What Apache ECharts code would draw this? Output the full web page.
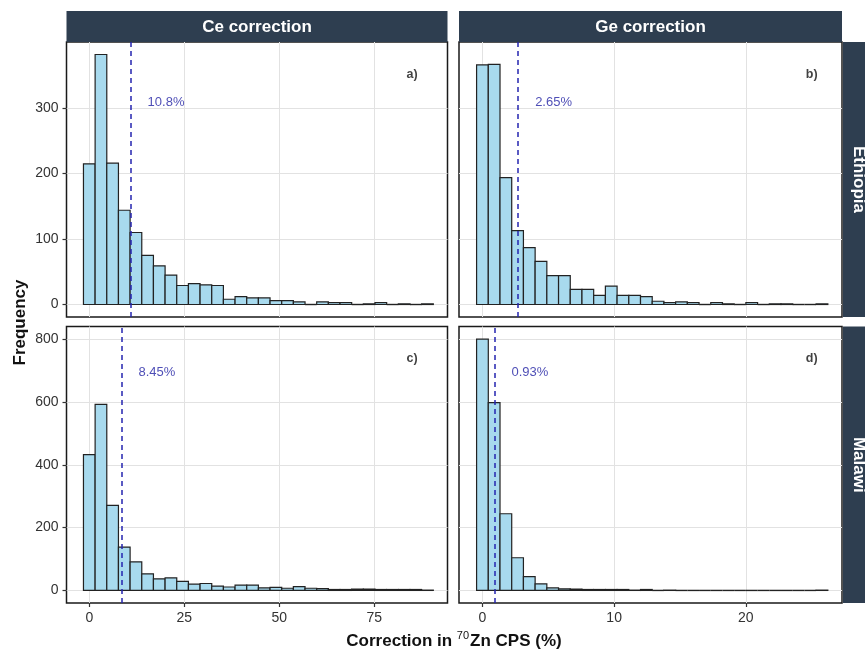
<!DOCTYPE html>
<html>
<head>
<meta charset="utf-8">
<script src="https://cdn.jsdelivr.net/npm/echarts@6/dist/echarts.min.js"></script>
<style>
html,body{margin:0;padding:0;background:#fff}
#chart{width:865px;height:652px}
</style>
</head>
<body>
<div id="chart"></div>
<script>
// histogram counts, 30 bins per panel
var ceEthiopia = [215,382,216,144,110,75,59,45,29,32,30,29,8,12,10,10,6,6,4,0,4,3,3,0,1,3,0,1,0,1];
var geEthiopia = [366,367,194,113,87,66,44,44,23,23,14,28,14,14,12,5,3,4,3,0,3,1,0,3,0,1,1,0,0,1];
var ceMalawi   = [432,592,271,138,91,53,37,40,29,20,22,14,11,17,17,8,10,7,12,7,6,3,3,4,4,3,3,3,3,1];
var geMalawi   = [800,598,244,104,44,21,8,5,4,3,3,3,3,1,3,0,1,0,0,0,0,0,0,0,0,0,0,0,0,1];

// bins: first bin centre and bin width for each column
var ceBin = {first: 0, width: 3.07};
var geBin = {first: 0, width: 0.889};

// mean correction (dashed line) per panel
var meanValues = [10.8, 2.65, 8.45, 0.93];
var meanLabels = ['10.8%', '2.65%', '8.45%', '0.93%'];
var meanLabelPos = [[20.2, 309], [5.4, 309], [17.8, 695], [3.6, 695]];
var panelTags = ['a)', 'b)', 'c)', 'd)'];
var panelTagPos = [[85, 352], [25, 352], [85, 738], [25, 738]];

var xTicksCe = [0, 25, 50, 75];
var xTicksGe = [0, 10, 20];
var yTicksTop = [0, 100, 200, 300];
var yTicksBottom = [0, 200, 400, 600, 800];

var columns = ['Ce correction', 'Ge correction'];
var rows = ['Ethiopia', 'Malawi'];

function toBins(counts, bin) {
    var out = [];
    for (var i = 0; i < counts.length; i++) {
        var c = bin.first + i * bin.width;
        out.push([c - bin.width / 2, c + bin.width / 2, counts[i]]);
    }
    return out;
}

function renderBin(params, api) {
    var p0 = api.coord([api.value(0), api.value(2)]);
    var p1 = api.coord([api.value(1), 0]);
    if (api.value(2) === 0) {
        // empty bin: ggplot still draws its outline as a flat line
        return {
            type: 'line',
            shape: {x1: p0[0], y1: p1[1], x2: p1[0], y2: p1[1]},
            style: {stroke: '#222', lineWidth: 1.4}
        };
    }
    return {
        type: 'rect',
        shape: {x: p0[0], y: p0[1], width: p1[0] - p0[0], height: p1[1] - p0[1]},
        style: {fill: '#a8daee', stroke: '#222', lineWidth: 1.2}
    };
}

var panels = [
    {data: toBins(ceEthiopia, ceBin), left: 66.5, top: 42, width: 381, height: 275, xmin: -6, xmax: 94.3, xt: xTicksCe, ymin: -19.1, ymax: 401.1, yt: yTicksTop, bottom: false, leftSide: true},
    {data: toBins(geEthiopia, geBin), left: 459, top: 42, width: 383, height: 275, xmin: -1.78, xmax: 27.3, xt: xTicksGe, ymin: -19.1, ymax: 401.1, yt: yTicksTop, bottom: false, leftSide: false},
    {data: toBins(ceMalawi, ceBin), left: 66.5, top: 326.5, width: 381, height: 276.5, xmin: -6, xmax: 94.3, xt: xTicksCe, ymin: -40, ymax: 840, yt: yTicksBottom, bottom: true, leftSide: true},
    {data: toBins(geMalawi, geBin), left: 459, top: 326.5, width: 383, height: 276.5, xmin: -1.78, xmax: 27.3, xt: xTicksGe, ymin: -40, ymax: 840, yt: yTicksBottom, bottom: true, leftSide: false}
];

var grid = [], xAxis = [], yAxis = [], series = [];
panels.forEach(function (p, i) {
    grid.push({left: p.left, top: p.top, width: p.width, height: p.height, show: true,
        borderColor: '#1a1a1a', borderWidth: 1.5, backgroundColor: 'transparent'});
    xAxis.push({
        type: 'value', gridIndex: i, min: p.xmin, max: p.xmax, position: 'bottom',
        axisLine: {show: false, onZero: false},
        axisTick: {show: p.bottom, customValues: p.xt, length: 4, lineStyle: {color: '#333', width: 1.2}},
        axisLabel: {show: p.bottom, customValues: p.xt, color: '#333', fontSize: 14, margin: 8, fontFamily: 'Liberation Sans'},
        splitLine: {show: true, lineStyle: {color: '#e2e2e2', width: 1}}
    });
    yAxis.push({
        type: 'value', gridIndex: i, min: p.ymin, max: p.ymax, position: 'left',
        axisLine: {show: false, onZero: false},
        axisTick: {show: p.leftSide, customValues: p.yt, length: 4, lineStyle: {color: '#333', width: 1.2}},
        axisLabel: {show: p.leftSide, customValues: p.yt, color: '#333', fontSize: 14, margin: 8, fontFamily: 'Liberation Sans'},
        splitLine: {show: true, lineStyle: {color: '#e2e2e2', width: 1}}
    });
    series.push({
        type: 'custom', xAxisIndex: i, yAxisIndex: i, renderItem: renderBin,
        encode: {x: [0, 1], y: 2}, data: p.data, silent: true,
        markLine: {
            symbol: 'none', silent: true, label: {show: false},
            lineStyle: {type: [5, 4], color: '#2424b0', width: 1.5},
            data: [{xAxis: meanValues[i]}]
        }
    });
    series.push({
        type: 'scatter', xAxisIndex: i, yAxisIndex: i, symbolSize: 0, silent: true,
        data: [{value: meanLabelPos[i], name: meanLabels[i]}],
        label: {show: true, position: 'inside', formatter: '{b}', color: '#2222a4', fontSize: 13, fontFamily: 'Liberation Sans'}
    });
    series.push({
        type: 'scatter', xAxisIndex: i, yAxisIndex: i, symbolSize: 0, silent: true,
        data: [{value: panelTagPos[i], name: panelTags[i]}],
        label: {show: true, position: 'inside', formatter: '{b}', color: '#111', fontSize: 12.5, fontWeight: 'bold', fontFamily: 'Liberation Sans'}
    });
});

var stripColor = '#2e3e50';
var stripFont = 'bold 17px "Liberation Sans"';
var graphic = [
    {type: 'rect', shape: {x: 66.5, y: 11, width: 381, height: 31}, style: {fill: stripColor}},
    {type: 'rect', shape: {x: 459, y: 11, width: 383, height: 31}, style: {fill: stripColor}},
    {type: 'text', x: 257, y: 27, style: {text: columns[0], fill: '#fff', font: stripFont, align: 'center', verticalAlign: 'middle'}},
    {type: 'text', x: 650.5, y: 27, style: {text: columns[1], fill: '#fff', font: stripFont, align: 'center', verticalAlign: 'middle'}},
    {type: 'rect', shape: {x: 843, y: 42, width: 31, height: 275}, style: {fill: stripColor}},
    {type: 'rect', shape: {x: 843, y: 326.5, width: 31, height: 276.5}, style: {fill: stripColor}},
    {type: 'text', x: 858.5, y: 179.5, rotation: -Math.PI / 2, style: {text: rows[0], fill: '#fff', font: stripFont, align: 'center', verticalAlign: 'middle'}},
    {type: 'text', x: 858.5, y: 464.75, rotation: -Math.PI / 2, style: {text: rows[1], fill: '#fff', font: stripFont, align: 'center', verticalAlign: 'middle'}},
    {type: 'text', x: 20, y: 322.5, rotation: Math.PI / 2, style: {text: 'Frequency', fill: '#111', font: 'bold 17px "Liberation Sans"', align: 'center', verticalAlign: 'middle'}},
    {type: 'text', x: 454, y: 641, style: {
        text: '{b|Correction in }{s|70}{b|Zn CPS (%)}',
        align: 'center', verticalAlign: 'middle',
        rich: {
            b: {fontSize: 17, fontWeight: 'bold', fill: '#111', fontFamily: 'Liberation Sans', lineHeight: 22},
            s: {fontSize: 11, fill: '#111', fontFamily: 'Liberation Sans', padding: [0, 1, 10, 0], lineHeight: 22}
        }
    }}
];

var chart = echarts.init(document.getElementById('chart'));
chart.setOption({
    animation: false,
    backgroundColor: '#fff',
    grid: grid,
    xAxis: xAxis,
    yAxis: yAxis,
    series: series,
    graphic: graphic
});
</script>
</body>
</html>
